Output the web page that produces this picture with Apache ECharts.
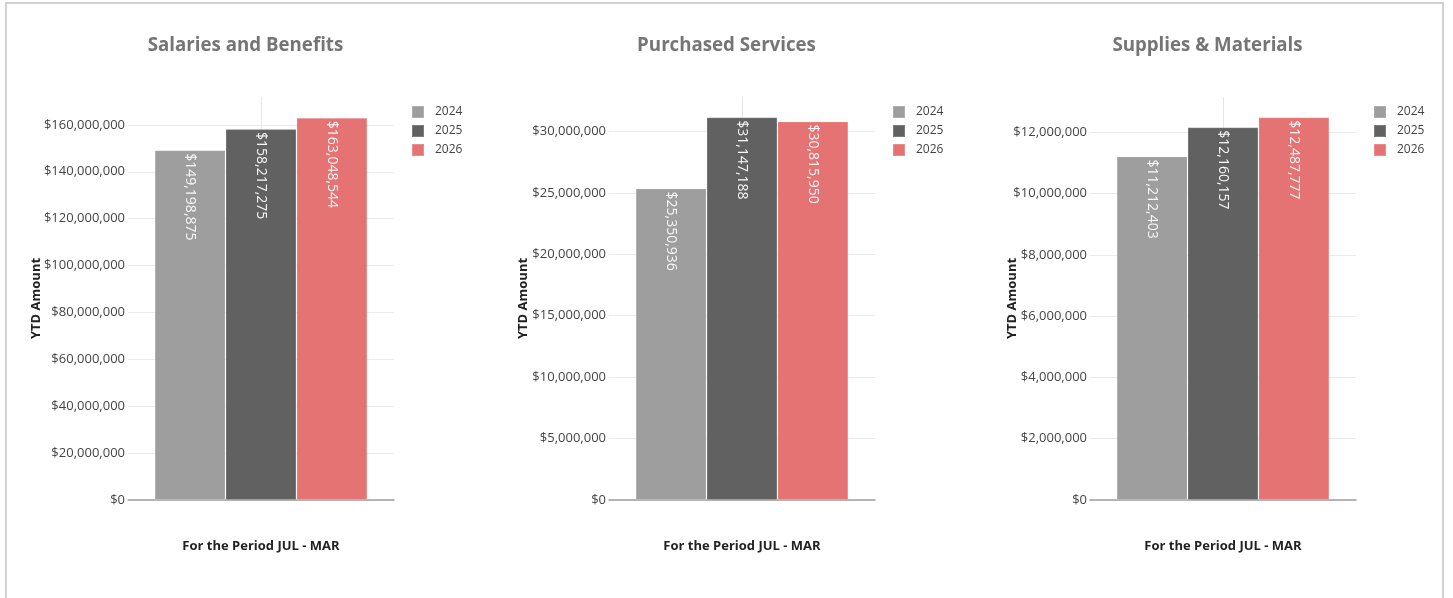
<!DOCTYPE html>
<html>
<head>
<meta charset="utf-8">
<script src="https://cdn.jsdelivr.net/npm/echarts@6/dist/echarts.min.js"></script>
<style>
  html, body { margin: 0; padding: 0; background: #fff; overflow: hidden; }
  .frame {
    position: absolute; left: 5px; top: 2px; width: 1439px; height: 700px;
    border: 2px solid #d2d2d2; box-sizing: border-box;
  }
  .panel { position: absolute; top: 0; width: 481px; height: 598px; }
</style>
</head>
<body>
<div class="frame"></div>
<div id="c0" class="panel" style="left:5px"></div>
<div id="c1" class="panel" style="left:486px"></div>
<div id="c2" class="panel" style="left:967px"></div>

<script>
// data
const titles = ['Salaries and Benefits', 'Purchased Services', 'Supplies & Materials'];
const years = ['2024', '2025', '2026'];
const category = ['JUL - MAR'];
const salaries = [149198875, 158217275, 163048544];
const purchased = [25350936, 31147188, 30815950];
const supplies = [11212403, 12160157, 12487777];
const yMax = [171900000, 32800000, 13150000];
const yStep = [20000000, 5000000, 2000000];

const values = [salaries, purchased, supplies];
const colors = ['#9e9e9e', '#616161', '#e57373'];
const FONT = '"Open Sans", "Noto Sans", sans-serif';
const nameGaps = [85, 79, 71];

function money(v) {
  return '$' + Math.round(v).toLocaleString('en-US');
}

function buildOption(i) {
  const series = years.map((y, k) => ({
    name: y,
    type: 'bar',
    data: [values[i][k]],
    barGap: 0,
    barCategoryGap: '20%',
    itemStyle: {
      color: colors[k],
      borderColor: 'rgba(255,255,255,0.18)',
      borderWidth: 1
    },
    label: {
      show: true,
      position: 'insideTop',
      distance: 3,
      rotate: -90,
      align: 'left',
      verticalAlign: 'middle',
      color: '#f7f7f7',
      fontFamily: FONT,
      fontSize: 14,
      formatter: p => money(p.value)
    }
  }));

  return {
    animation: false,
    textStyle: { fontFamily: FONT },
    title: {
      text: titles[i],
      left: 'center',
      top: 36,
      padding: 0,
      textStyle: { fontFamily: FONT, fontSize: 18.7, fontWeight: 'bold', color: '#757575' }
    },
    legend: {
      orient: 'vertical',
      left: 406,
      top: 105,
      itemWidth: 12,
      itemHeight: 12,
      itemGap: 5,
      icon: 'rect',
      padding: 0,
      data: years,
      textStyle: { fontFamily: FONT, fontSize: 12, color: '#444', padding: [0, 0, 0, 6] }
    },
    grid: { left: 123, width: 266, top: 97, bottom: 98 },
    xAxis: [
      {
        type: 'category',
        data: category,
        name: 'For the Period JUL - MAR',
        nameLocation: 'middle',
        nameGap: 40,
        nameMoveOverlap: false,
        nameTextStyle: { fontFamily: FONT, fontSize: 13, fontWeight: 'bold', color: '#222' },
        axisLine: { lineStyle: { color: '#9e9e9e', width: 1.5 } },
        axisTick: { show: false },
        axisLabel: { show: false },
        splitLine: { show: false }
      },
      {
        // only used for the light vertical line through the category centre
        type: 'value',
        min: -1, max: 1, interval: 1,
        axisLine: { show: false },
        axisTick: { show: false },
        axisLabel: { show: false },
        splitLine: { show: true, showMinLine: false, showMaxLine: false, lineStyle: { color: '#e6e6e6' } }
      }
    ],
    yAxis: {
      type: 'value',
      min: 0,
      max: yMax[i],
      interval: yStep[i],
      name: 'YTD Amount',
      nameLocation: 'middle',
      nameGap: nameGaps[i],
      nameMoveOverlap: false,
      nameTextStyle: { fontFamily: FONT, fontSize: 13, fontWeight: 'bold', color: '#222' },
      axisLine: { show: false },
      axisTick: { show: false },
      axisLabel: {
        showMaxLabel: false,
        margin: 3,
        fontFamily: FONT,
        fontSize: 13,
        color: '#444',
        formatter: v => (v % yStep[i] === 0 ? money(v) : '')
      },
      splitLine: { showMaxLine: false, lineStyle: { color: '#ebebeb' } }
    },
    series: series
  };
}

for (let i = 0; i < 3; i++) {
  const chart = echarts.init(document.getElementById('c' + i));
  chart.setOption(buildOption(i));
}
</script>
</body>
</html>
